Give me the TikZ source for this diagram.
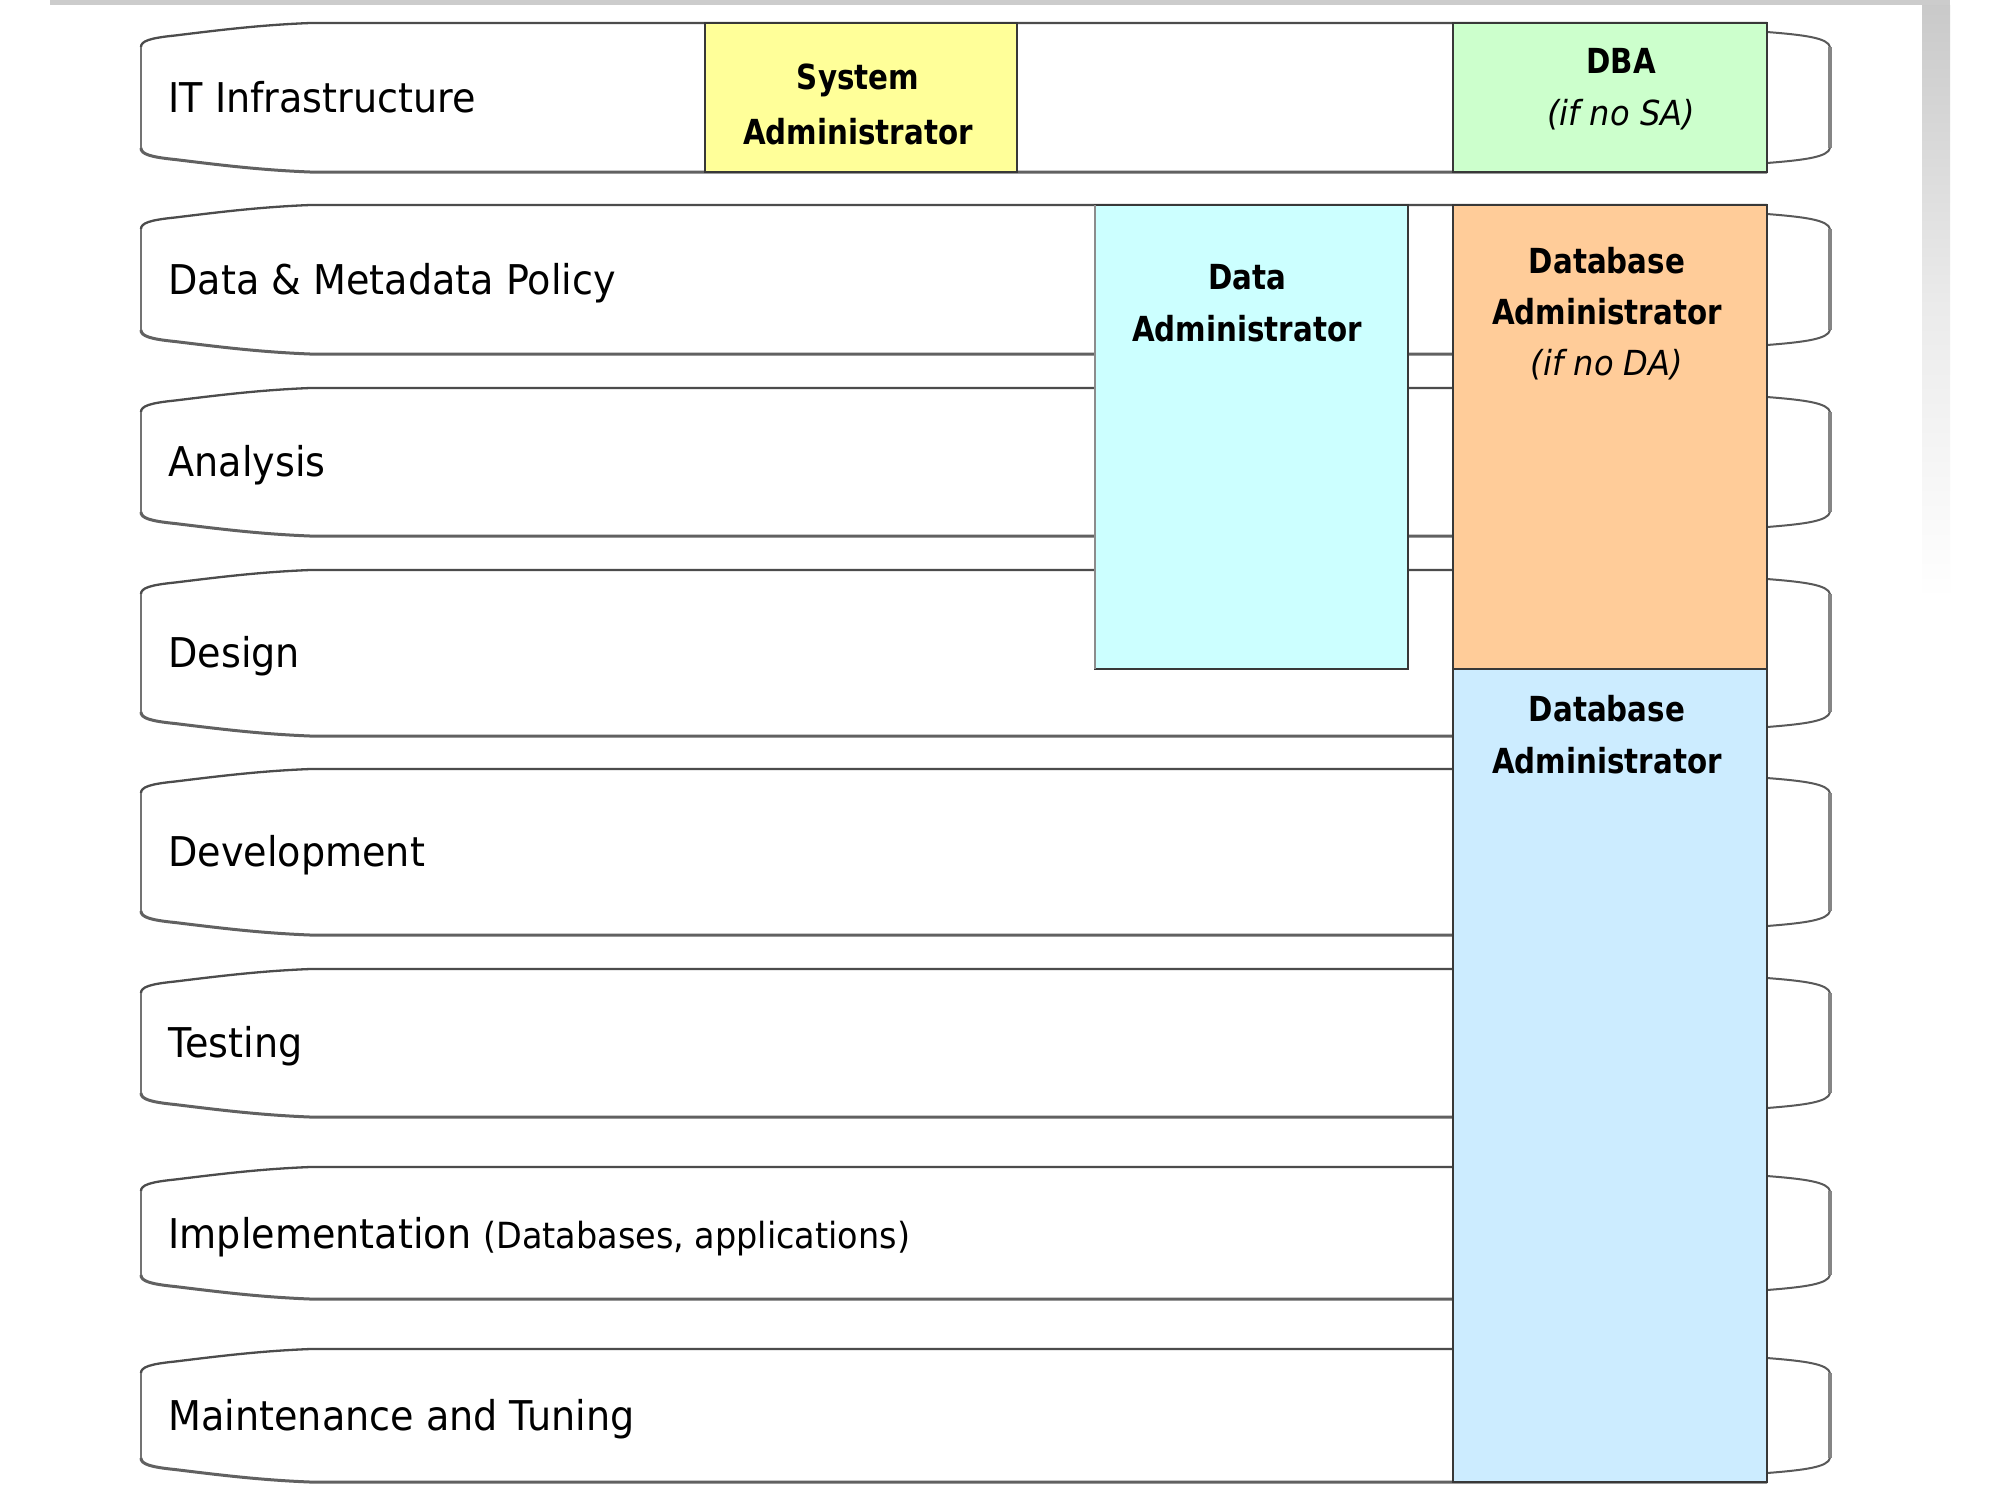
\documentclass[tikz,border=0pt]{standalone}
\usepackage{fontspec}
\setmainfont{DejaVu Sans}[FakeStretch=0.93]
\newfontfamily\boxfont{DejaVu Sans}[FakeStretch=0.85]
\definecolor{saY}{HTML}{FFFF99}
\definecolor{dbaG}{HTML}{CCFFCC}
\definecolor{daC}{HTML}{CCFFFF}
\definecolor{dbaO}{HTML}{FFCC99}
\definecolor{dbaB}{HTML}{CCECFF}
\begin{document}
\begin{tikzpicture}[x=0.5pt,y=-0.5pt,
  lbl/.style={anchor=base west, inner sep=0, font=\fontsize{20.5pt}{24pt}\selectfont},
  boxtxt/.style={anchor=base, inner sep=0, font=\boxfont\bfseries\fontsize{17.25pt}{20pt}\selectfont},
  boxit/.style={anchor=base, inner sep=0, font=\itshape\fontsize{17.25pt}{20pt}\selectfont},
  role/.style={draw=black!78, line width=1pt, inner sep=0, outer sep=0},
  bandtop/.style={draw=black!70, line width=1.15pt},
  bandside/.style={draw=black!55, line width=1.2pt},
  bandbot/.style={draw=black!62, line width=1.5pt},
  bracketc/.style={draw=black!65, line width=1pt},
  bracketv/.style={draw=black!48, line width=1.6pt}]
\useasboundingbox (0,0) rectangle (2000,1500);
\fill[white] (0,0) rectangle (2000,1500);
% slide frame
\fill[black!20] (50,0) rectangle (1950,5);
\shade[top color=black!21, bottom color=white, middle color=black!8] (1922,5) rectangle (1950,600);
% bands
\foreach \T/\B in {23/172, 205/354, 388/536, 570/736, 769/935, 969/1117, 1167/1299, 1349/1482} {
  \draw[bandtop] (1767,\T) -- (310,\T) .. controls (260,\T+2) and (220,\T+7) .. (175,\T+12.5) .. controls (150,\T+15) and (141,\T+18) .. (141,\T+24);
  \draw[bandside] (141,\T+24) -- (141,\B-24);
  \draw[bandbot] (141,\B-24) .. controls (141,\B-18) and (150,\B-15) .. (175,\B-12.5) .. controls (220,\B-7) and (260,\B-2) .. (310,\B) -- (1767,\B);
  \draw[bracketc] (1767,\T+9) .. controls (1805,\T+12) and (1828,\T+15) .. (1830,\T+24);
  \draw[bracketv] (1830,\T+24) -- (1830,\B-24);
  \draw[bracketc] (1830,\B-24) .. controls (1828,\B-15) and (1805,\B-12) .. (1767,\B-9);
}
% row labels
\node[lbl] (l1) at (168,112) {IT Infrastructure};
\node[lbl] (l2) at (168,294) {Data \& Metadata Policy};
\node[lbl] (l3) at (168,476.5) {Analysis};
\node[lbl] (l4) at (168,667.5) {Design};
\node[lbl] (l5) at (168,866.5) {Development};
\node[lbl] (l6) at (168,1057.5) {Testing};
\node[lbl] (l7) at (168,1248) {Implementation {\fontsize{18pt}{20pt}\selectfont(Databases, applications)}};
\node[lbl] (l8) at (168,1430) {Maintenance and Tuning};
% role boxes
\node[role, fill=saY, minimum width=156pt, minimum height=74.5pt] (sa) at (861,97.5) {};
\node[role, fill=dbaG, minimum width=157pt, minimum height=74.5pt] (dba) at (1610,97.5) {};
\node[role, fill=daC, minimum width=156.5pt, minimum height=232pt] (da) at (1251.5,437) {};
\draw[black!45, line width=1.2pt] (da.south west) -- (da.north west);
\node[role, fill=dbaO, minimum width=157pt, minimum height=232pt] (dbao) at (1610,437) {};
\node[role, fill=dbaB, minimum width=157pt, minimum height=406.5pt] (dbab) at (1610,1075.5) {};
% box texts
\node[boxtxt] (sat1) at (858,89) {System};
\node[boxtxt] (sat2) at (858,144) {Administrator};
\node[boxtxt] (dbat1) at (1621,73) {DBA};
\node[boxit] (dbat2) at (1621,125) {(if no SA)};
\node[boxtxt] (dat1) at (1247,289) {Data};
\node[boxtxt] (dat2) at (1247,341) {Administrator};
\node[boxtxt] (dbot1) at (1607,273) {Database};
\node[boxtxt] (dbot2) at (1607,324) {Administrator};
\node[boxit] (dbot3) at (1607,375) {(if no DA)};
\node[boxtxt] (dbbt1) at (1607,721) {Database};
\node[boxtxt] (dbbt2) at (1607,773) {Administrator};
\end{tikzpicture}
\end{document}
